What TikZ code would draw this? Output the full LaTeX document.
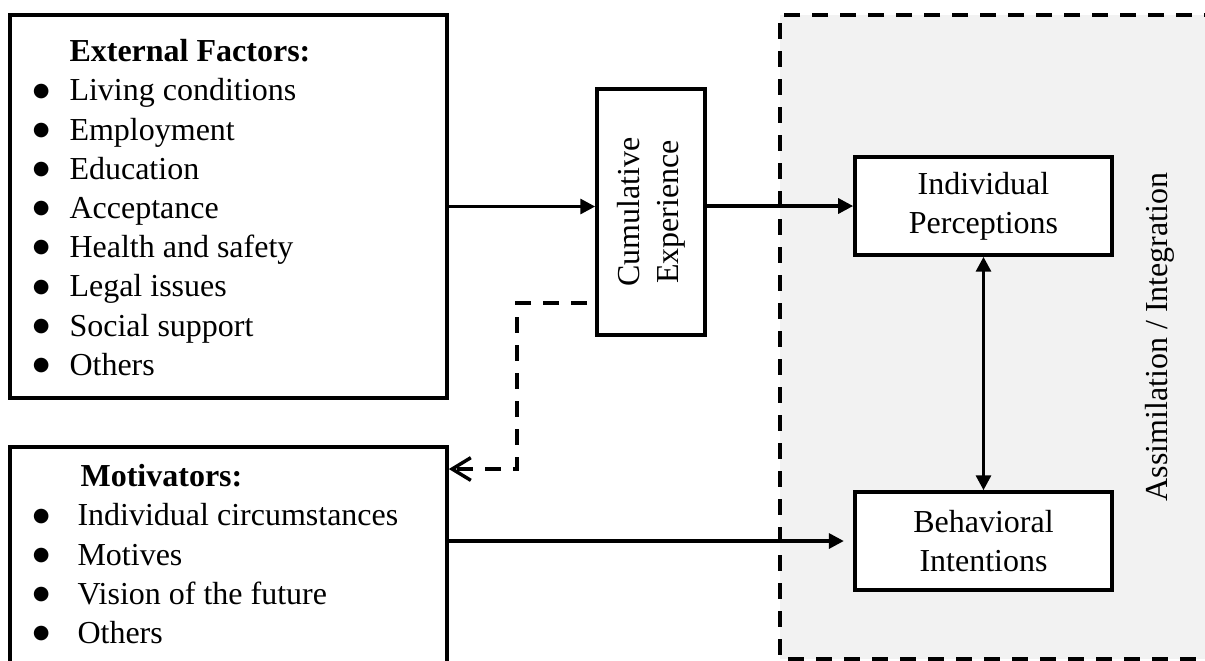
\documentclass[tikz,border=0pt]{standalone}
\usepackage{fontspec}
\setmainfont{Liberation Serif}
\newfontfamily\bulfont{DejaVu Sans}
\usetikzlibrary{arrows.meta}
\definecolor{regiongray}{HTML}{F2F2F2}
\newcommand\bulglyph{\kern-1pt\raisebox{1.8pt}{\bulfont\fontsize{7.2pt}{7.2pt}\selectfont ●}}
\newcommand\extbul{\makebox[12.75pt][l]{\bulglyph}}
\newcommand\motbul{\makebox[15.75pt][l]{\bulglyph}}
\tikzset{
  x=0.375pt, y=-0.375pt,
  txt/.style={font=\fontsize{12pt}{14.7pt}\selectfont},
  boxed/.style={draw, line width=1.35pt, fill=white, rectangle, inner sep=0pt, txt},
  listtext/.style={txt, align=left, inner sep=0pt, anchor=north west},
  arr/.style={line width=1.25pt, -{Triangle[length=5.6pt,width=5.6pt]}},
  dblarr/.style={line width=1.25pt, {Triangle[length=5.6pt,width=5.6pt]}-{Triangle[length=5.6pt,width=5.6pt]}},
  fbline/.style={line width=1.3pt, dash pattern=on 6pt off 4.5pt, -{Straight Barb[length=7pt,width=8.5pt,line width=1.3pt]}},
  regionline/.style={line width=1.3pt, dash pattern=on 6pt off 4.5pt}
}
\begin{document}
\begin{tikzpicture}
\useasboundingbox (0,0) rectangle (1205,660);
% assimilation region
\fill[regiongray] (780,15) rectangle (1220,659);
\draw[regionline] (1220,15) -- (780,15) -- (780,659) -- (1220,659);
\node[txt, rotate=90, inner sep=0pt] (assimlabel) at (1160,337) {Assimilation / Integration};

% boxes
\node[boxed, minimum width=163.9pt, minimum height=143.6pt] (ext) at (228.5,206.5) {};
\node[listtext] (extlist) at (35,39) {\hspace*{12.75pt}\textbf{External Factors:}\\
\extbul Living conditions\\
\extbul Employment\\
\extbul Education\\
\extbul Acceptance\\
\extbul Health and safety\\
\extbul Legal issues\\
\extbul Social support\\
\extbul Others};

\node[boxed, minimum width=163.9pt, minimum height=97.5pt] (mot) at (228.5,577) {};
\node[listtext] (motlist) at (35,464) {\hspace*{16.9pt}\textbf{Motivators:}\\
\motbul Individual circumstances\\
\motbul Motives\\
\motbul Vision of the future\\
\motbul Others};

\node[boxed, rotate=90, align=center, minimum width=92.25pt, minimum height=40.5pt] (cum) at (651,212) {Cumulative\\Experience};

\node[boxed, align=center, minimum width=96.4pt, minimum height=36.75pt] (ip) at (983.5,206) {Individual\\Perceptions};
\node[boxed, align=center, minimum width=96.4pt, minimum height=36.75pt] (bi) at (983.5,541) {Behavioral\\Intentions};

% connectors (cum is rotated: its north anchor is on the left, south on the right)
\draw[arr] (ext.east) -- (ext.east -| cum.north);
\draw[arr] (ip.west -| cum.south) -- (ip.west);
\draw[arr] (mot.east |- bi.west) -- ([xshift=-3.5pt]bi.west);
\draw[dblarr] (ip.south) -- (bi.north);
\coordinate (fbstart) at (587,303);
\coordinate (fbcorner1) at (517,303);
\coordinate (fbcorner2) at (517,469);
\draw[fbline] (fbstart) -- (fbcorner1) -- (fbcorner2) -- (mot.east |- fbcorner2);
\end{tikzpicture}
\end{document}
